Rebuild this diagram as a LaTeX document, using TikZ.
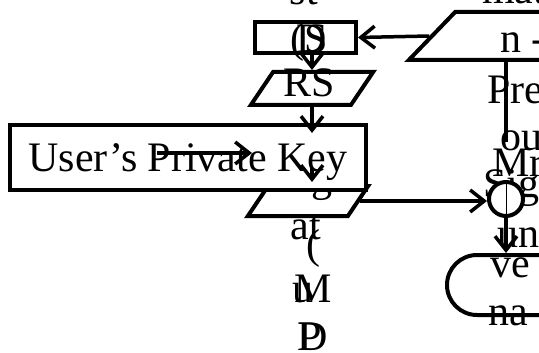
\documentclass[tikz,border=0pt]{standalone}
\usepackage{fontspec}
\setmainfont{Liberation Serif}
\usetikzlibrary{arrows.meta, shapes.geometric}
\newcommand{\bigtxt}{\fontsize{42}{50}\selectfont}
\tikzset{
  >={Straight Barb[length=14pt,width=22pt]},
  font=\bigtxt,
  blk/.style={draw, line width=4pt, inner sep=0pt},
  slab/.style={blk, trapezium, minimum width=0pt, minimum height=0pt},
  arr/.style={->, line width=3.5pt},
  frag/.style={inner sep=0pt, anchor=base},
  fragw/.style={inner sep=0pt, anchor=base west}
}
\begin{document}
\begin{tikzpicture}[x=1pt, y=-1pt]
  \useasboundingbox (0,0) rectangle (539,353);
  \fill[white] (0,0) rectangle (539,353);
  % left column
  \node[blk, minimum width=101, minimum height=31] (hash) at (305.5,37.5) {};
  \node[slab, trapezium left angle=56, trapezium right angle=124,
        inner xsep=38.9pt, inner ysep=16.5pt] (digest) at (312,88.5) {};
  \node[slab, trapezium left angle=56, trapezium right angle=124,
        inner xsep=39.9pt, inner ysep=15pt] (sigout) at (308,201) {};
  \node[frag] (st) at (304,5) {st};
  \node[frag] (lpS) at (309,53) {(S};
  \node[frag] (dD) at (312,53) {D};
  \node[frag] (rs) at (309,97) {RS};
  \node[frag] (gg) at (322,191) {g};
  \node[frag] (at) at (306,239) {at};
  \node[frag] (lp) at (313,258) {(};
  \node[frag] (uu) at (303,302) {u};
  \node[frag] (mm) at (313,302) {M};
  \node[frag] (pp) at (310,350) {P};
  \node[frag] (dd) at (313,350) {D};
  \node[blk, fill=white, minimum width=356, minimum height=65,
        text height=28pt, text depth=0pt] (key) at (188,157.5) {User's Private Key};
  % right column
  \node[slab, trapezium left angle=46, trapezium right angle=134,
        inner xsep=106.8pt, inner ysep=24pt] (msg) at (562,36) {};
  \node[fragw] (mat) at (482,4) {mat};
  \node[fragw] (ndash) at (500,53) {n -};
  \node[fragw] (pre) at (487,103) {Pre};
  \node[fragw] (ou) at (500,150) {ou};
  \node[fragw] (mr) at (492,176) {Mr};
  \node[fragw] (sig) at (483,197) {Sig};
  \node[fragw] (un) at (497,247) {un};
  \node[fragw] (ve) at (490,277) {ve};
  \node[fragw] (na) at (488,325) {na};
  \node[blk, circle, fill=white, minimum size=34] (sum) at (506,199) {};
  \node[blk, rounded corners=30pt, minimum width=200, minimum height=60] (verify) at (547,285) {};
  % connectors
  \coordinate (feed) at (312,133);
  \coordinate (keytail) at (312,168);
  \coordinate (keyhead) at (312,182);
  \coordinate (pin) at (157,153);
  \coordinate (pout) at (252,153);
  \coordinate (drop) at (506,142);
  \draw[arr] (msg.west) -- (hash.east);
  \draw[arr] (digest.north |- hash.south) -- (digest.north);
  \draw[arr] (digest.south) -- (feed);
  \draw[arr] (pin) -- (pout);
  \draw[arr] (keytail) -- (keyhead);
  \draw[arr] (sigout.east) -- (sigout.east -| sum.west);
  \draw[line width=3.5pt] (drop |- msg.south) -- (drop);
  \draw[line width=0.8pt] (sum.north) -- (sum.south);
  \draw[arr] (sum.south) -- (sum.south |- verify.north);
\end{tikzpicture}
\end{document}
